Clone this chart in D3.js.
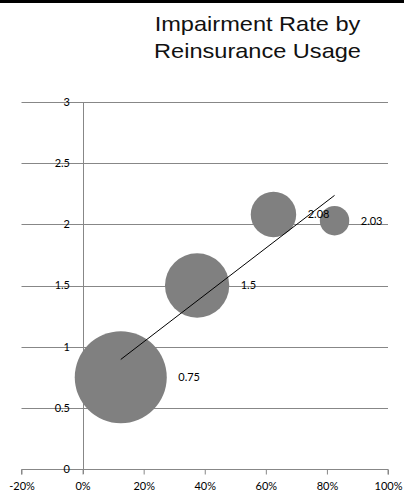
<!DOCTYPE html>
<html>
<head>
<meta charset="utf-8">
<script src="https://cdn.jsdelivr.net/npm/d3@7"></script>
<style>
  html, body { margin: 0; padding: 0; background: #fff; }
  svg { display: block; }
</style>
</head>
<body>
<div id="chart"></div>
<script>
// Reinsurance usage (share of premium ceded) vs. impairment rate
const usage = [0.125, 0.375, 0.625, 0.825];
const impairment = [0.75, 1.5, 2.08, 2.03];
const bubbleSize = [0.41, 0.20, 0.10, 0.042];
const xTicks = [-0.2, 0, 0.2, 0.4, 0.6, 0.8, 1.0];
const yTicks = [0, 0.5, 1, 1.5, 2, 2.5, 3];
const titleLines = ["Impairment Rate by", "Reinsurance Usage"];

const W = 404, H = 492;
const svg = d3.select("#chart").append("svg")
  .attr("width", W).attr("height", H);

// Header rule
svg.append("rect").attr("x", 0).attr("y", 0).attr("width", W).attr("height", 3)
  .attr("fill", "#000");

// Title (slightly wide lettering)
const title = svg.append("text")
  .attr("text-anchor", "middle")
  .attr("transform", "translate(257.5,0) scale(1.15,1)")
  .attr("font-family", "'Liberation Sans', Arial, sans-serif")
  .attr("font-size", 20.5)
  .attr("fill", "#111");
titleLines.forEach((t, i) => {
  title.append("tspan").attr("x", 0).attr("y", 31 + i * 27).text(t);
});

const x = d3.scaleLinear().domain([-0.2, 1.0]).range([21.5, 388]);
const y = d3.scaleLinear().domain([0, 3]).range([469, 102]);
const r = d3.scaleSqrt().domain([0, d3.max(bubbleSize)]).range([0, 46]);

const labelFont = "Lato, 'Open Sans', sans-serif";
const gridColor = "#878787";

// Horizontal gridlines
svg.append("g").selectAll("line").data(yTicks.filter(v => v > 0)).join("line")
  .attr("x1", x(-0.2)).attr("x2", x(1.0))
  .attr("y1", d => Math.round(y(d)) + 0.5).attr("y2", d => Math.round(y(d)) + 0.5)
  .attr("stroke", gridColor).attr("stroke-width", 1);

// X axis (at y = 0) with downward ticks
const xAxis = svg.append("g")
  .attr("transform", `translate(0,${Math.round(y(0)) + 0.5})`)
  .call(d3.axisBottom(x).tickValues(xTicks).tickSize(5).tickPadding(8)
    .tickFormat(d3.format(".0%")));
xAxis.select(".domain").attr("stroke", gridColor).attr("d", `M${x(-0.2)},5V0H${x(1.0)}V5`);
xAxis.selectAll(".tick line").attr("stroke", gridColor);
xAxis.selectAll(".tick text")
  .attr("font-family", labelFont).attr("font-size", 11).attr("fill", "#000")
  .text(d => d3.format(".0%")(d).replace("−", "-"));

// Y axis line at x = 0%
svg.append("line")
  .attr("x1", Math.round(x(0)) + 0.5).attr("x2", Math.round(x(0)) + 0.5)
  .attr("y1", y(3)).attr("y2", y(0) + 5)
  .attr("stroke", gridColor);

// Y tick labels sit on the gridlines
svg.append("g").selectAll("text").data(yTicks).join("text")
  .attr("x", 70).attr("y", d => y(d))
  .attr("dy", "0.35em")
  .attr("text-anchor", "end")
  .attr("font-family", labelFont).attr("font-size", 11).attr("fill", "#000")
  .text(d => d3.format("")(d));

const pts = usage.map((u, i) => ({ u, v: impairment[i], s: bubbleSize[i] }));

// Bubbles
svg.append("g").selectAll("circle").data(pts).join("circle")
  .attr("cx", d => x(d.u)).attr("cy", d => y(d.v)).attr("r", d => r(d.s))
  .attr("fill", "#808080");

// Linear trendline (least squares)
const mx = d3.mean(usage), my = d3.mean(impairment);
const slope = d3.sum(usage, (u, i) => (u - mx) * (impairment[i] - my)) /
              d3.sum(usage, u => (u - mx) ** 2);
const icpt = my - slope * mx;
const [u0, u1] = d3.extent(usage);
svg.append("line")
  .attr("x1", x(u0)).attr("y1", y(icpt + slope * u0))
  .attr("x2", x(u1)).attr("y2", y(icpt + slope * u1))
  .attr("stroke", "#000").attr("stroke-width", 1);

// Value labels to the right of each bubble
svg.append("g").selectAll("text").data(pts).join("text")
  .attr("x", d => x(d.u) + r(d.s) + 11.5).attr("y", d => y(d.v))
  .attr("dy", "0.35em")
  .attr("font-family", labelFont).attr("font-size", 11).attr("fill", "#000")
  .text(d => d.v);
</script>
</body>
</html>
